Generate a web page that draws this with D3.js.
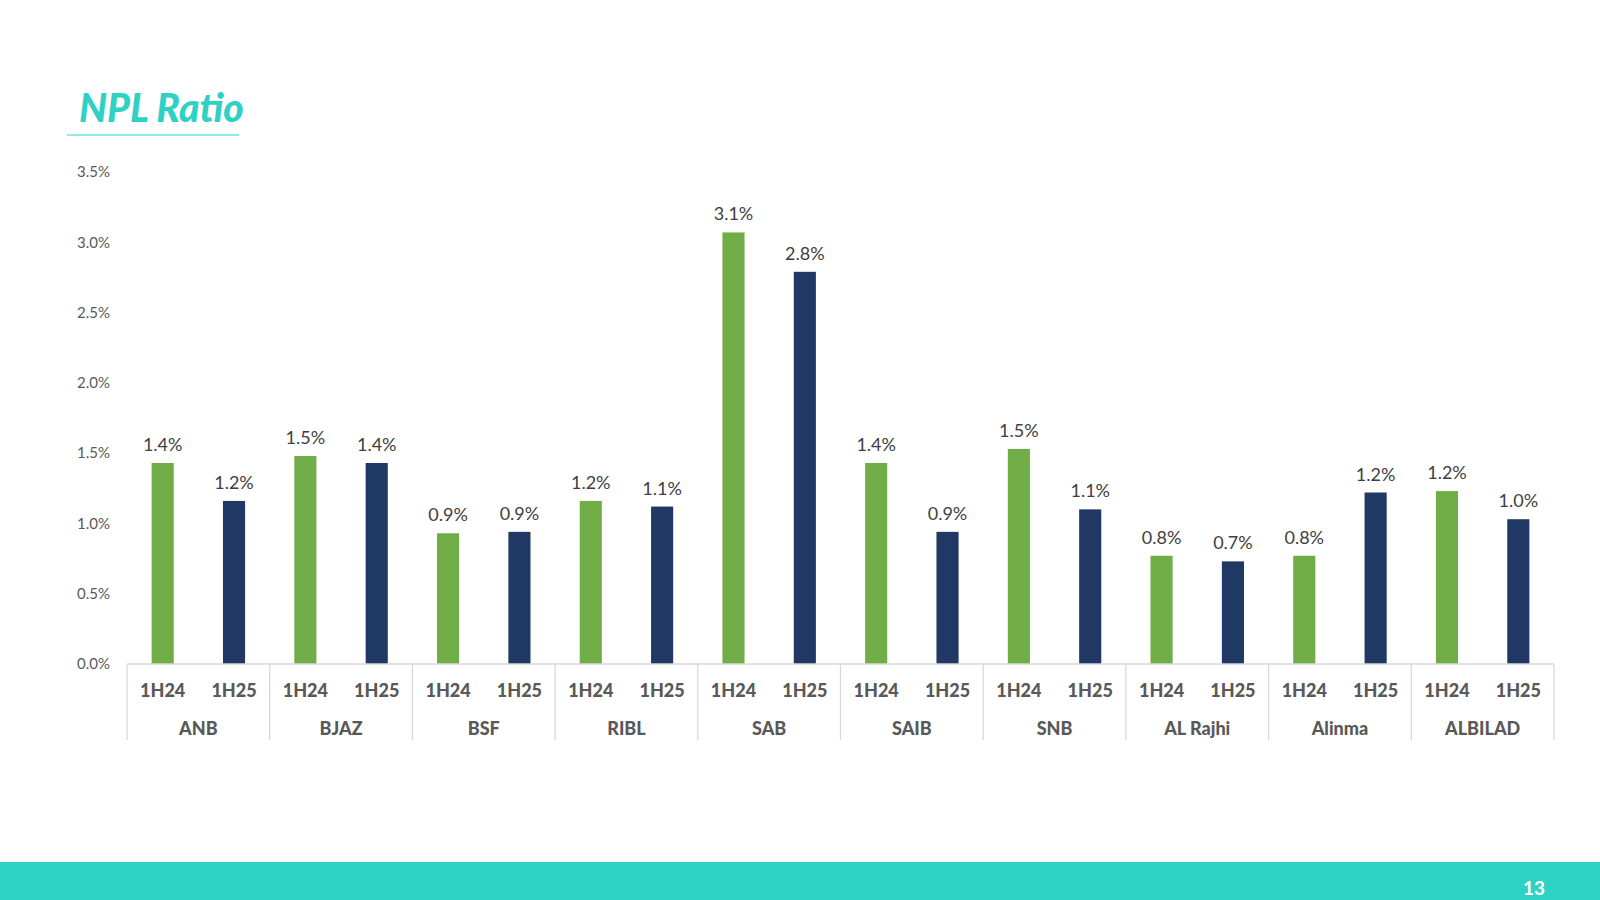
<!DOCTYPE html>
<html>
<head>
<meta charset="utf-8">
<script src="https://cdn.jsdelivr.net/npm/d3@7"></script>
<style>
  body { margin: 0; background: #fff; }
  svg { display: block; font-family: Lato, "Open Sans", sans-serif; }
</style>
</head>
<body>
<svg id="chart" width="1600" height="900"></svg>
<script>
// banks on the outer axis, periods on the inner axis
var banks = ['ANB', 'BJAZ', 'BSF', 'RIBL', 'SAB', 'SAIB', 'SNB', 'AL Rajhi', 'Alinma', 'ALBILAD'];
var periods = ['1H24', '1H25'];
var npl1H24 = [1.43, 1.48, 0.93, 1.16, 3.07, 1.43, 1.53, 0.77, 0.77, 1.23];
var npl1H25 = [1.16, 1.43, 0.94, 1.12, 2.79, 0.94, 1.10, 0.73, 1.22, 1.03];
var yTicks = [0, 0.5, 1, 1.5, 2, 2.5, 3, 3.5];

var colors = {'1H24': '#70ad47', '1H25': '#203864'};

var svg = d3.select('#chart');

// title
svg.append('text')
    .attr('x', 79)
    .attr('y', 122)
    .attr('fill', '#2fd1c4')
    .style('font-size', '39px')
    .style('font-weight', '900')
    .style('font-style', 'italic')
    .text('NPL Ratio');

svg.append('line')
    .attr('x1', 67).attr('x2', 239)
    .attr('y1', 135).attr('y2', 135)
    .attr('stroke', '#2fd1c4')
    .attr('stroke-width', 1.2);

// footer band
svg.append('rect')
    .attr('x', 0).attr('y', 862)
    .attr('width', 1600).attr('height', 38)
    .attr('fill', '#2fd1c4');

svg.append('text')
    .attr('x', 1534)
    .attr('y', 895)
    .attr('text-anchor', 'middle')
    .attr('fill', '#fff')
    .style('font-size', '19px')
    .style('font-weight', 'bold')
    .text('13');

var left = 127, right = 1554, baseY = 664, topY = 172;

var xGroup = d3.scaleBand()
    .domain(banks)
    .range([left, right]);

var xInner = d3.scaleBand()
    .domain(periods)
    .range([0, xGroup.bandwidth()])
    .paddingInner(0.69)
    .paddingOuter(0.345);

var yScale = d3.scaleLinear()
    .domain([0, 3.5])
    .range([baseY, topY]);

// y tick labels
svg.append('g').selectAll('text')
    .data(yTicks)
    .enter()
    .append('text')
    .attr('x', 110)
    .attr('y', function(d) { return yScale(d); })
    .attr('dy', '0.35em')
    .attr('text-anchor', 'end')
    .attr('fill', '#595959')
    .style('font-size', '15px')
    .text(function(d) { return d.toFixed(1) + '%'; });

var rows = [];
banks.forEach(function(b, i) {
    rows.push({bank: b, period: '1H24', value: npl1H24[i]});
    rows.push({bank: b, period: '1H25', value: npl1H25[i]});
});

// bars
var barG = svg.append('g');
barG.selectAll('rect')
    .data(rows)
    .enter()
    .append('rect')
    .attr('x', function(d) { return xGroup(d.bank) + xInner(d.period); })
    .attr('y', function(d) { return yScale(d.value); })
    .attr('width', xInner.bandwidth())
    .attr('height', function(d) { return baseY - yScale(d.value); })
    .attr('fill', function(d) { return colors[d.period]; });

// data labels
barG.selectAll('text')
    .data(rows)
    .enter()
    .append('text')
    .attr('x', function(d) { return xGroup(d.bank) + xInner(d.period) + xInner.bandwidth() / 2; })
    .attr('y', function(d) { return yScale(d.value) - 12; })
    .attr('text-anchor', 'middle')
    .attr('fill', '#404040')
    .style('font-size', '18px')
    .text(function(d) { return d.value.toFixed(1) + '%'; });

// axis lines
var axisG = svg.append('g').attr('stroke', '#d9d9d9').attr('stroke-width', 1.3);
axisG.append('line')
    .attr('x1', left).attr('x2', right)
    .attr('y1', baseY).attr('y2', baseY);

axisG.selectAll('.sep')
    .data(banks.concat(['end']))
    .enter()
    .append('line')
    .attr('class', 'sep')
    .attr('x1', function(d, i) { return left + i * xGroup.bandwidth(); })
    .attr('x2', function(d, i) { return left + i * xGroup.bandwidth(); })
    .attr('y1', baseY)
    .attr('y2', 740);

// inner category labels
svg.append('g').selectAll('text')
    .data(rows)
    .enter()
    .append('text')
    .attr('x', function(d) { return xGroup(d.bank) + xInner(d.period) + xInner.bandwidth() / 2; })
    .attr('y', 697)
    .attr('text-anchor', 'middle')
    .attr('fill', '#595959')
    .style('font-size', '18px')
    .style('font-weight', '900')
    .text(function(d) { return d.period; });

// bank labels
svg.append('g').selectAll('text')
    .data(banks)
    .enter()
    .append('text')
    .attr('x', function(d) { return xGroup(d) + xGroup.bandwidth() / 2; })
    .attr('y', 735)
    .attr('text-anchor', 'middle')
    .attr('fill', '#595959')
    .style('font-size', '18px')
    .style('font-weight', '900')
    .text(function(d) { return d; });
</script>
</body>
</html>
